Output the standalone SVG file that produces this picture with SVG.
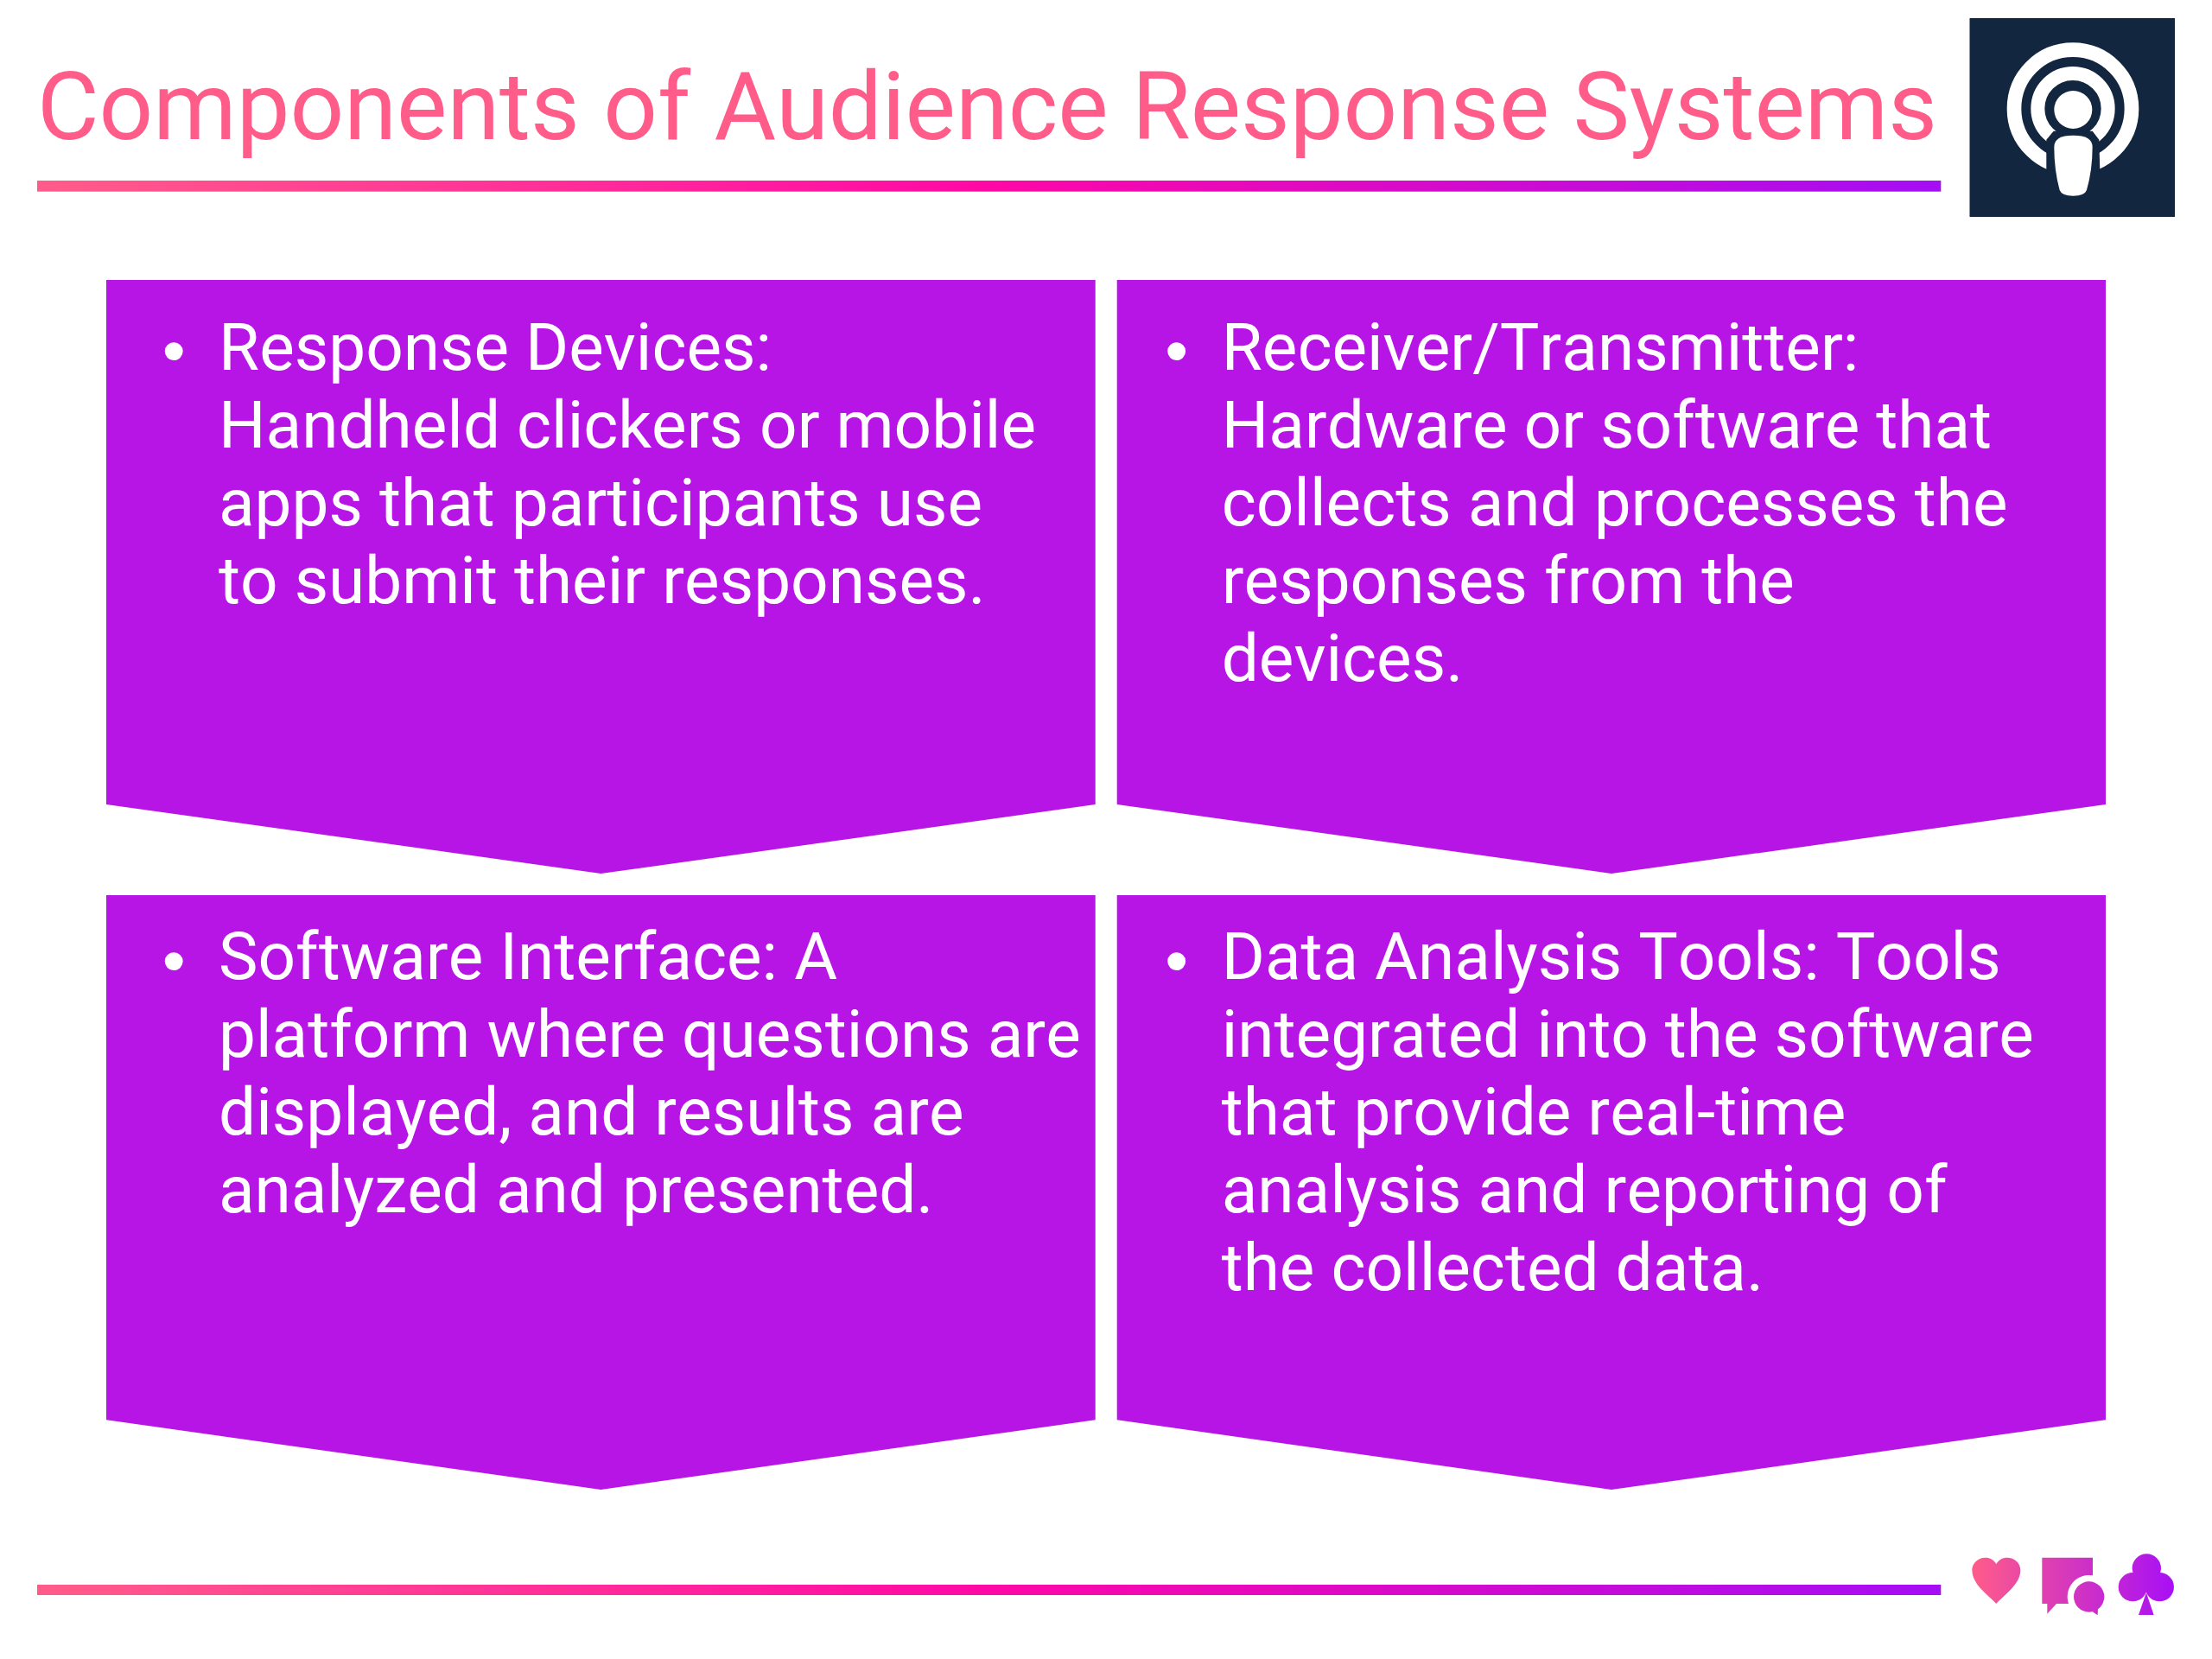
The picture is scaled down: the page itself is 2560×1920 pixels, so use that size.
<svg xmlns="http://www.w3.org/2000/svg" width="2560" height="1920" viewBox="0 0 2560 1920">
<style>
text{font-family:Roboto,"Liberation Sans",sans-serif;font-kerning:none}
.title{font-size:110px;fill:#ff5c8a}
.body{font-size:76.5px;fill:#fff}
.dot{font-size:76.8px;fill:#fff;font-family:"Liberation Sans",sans-serif;text-anchor:middle}
.box{fill:#b715e6}
</style>
<defs>
<linearGradient id="rule" x1="0" x2="1" y1="0" y2="0">
<stop offset="0" stop-color="#ff5c8a"/><stop offset=".5" stop-color="#ff08a6"/><stop offset="1" stop-color="#a50df5"/>
</linearGradient>
<linearGradient id="ico" gradientUnits="userSpaceOnUse" x1="127" y1="0" x2="828" y2="0">
<stop offset="0" stop-color="#ff5c8a"/><stop offset="1" stop-color="#a80ff5"/>
</linearGradient>
</defs>
<rect width="2560" height="1920" fill="#fff"/>
<g id="header">
<text class="title" x="43" y="160.7">Components of Audience Response Systems</text>
<rect x="43" y="209" width="2203.3" height="12.7" fill="url(#rule)"/>
</g>
<g id="logo">
<rect x="2279.5" y="21" width="237.5" height="230" fill="#12263f"/>
<g transform="translate(2240 0) scale(.3333)">
<circle cx="477" cy="377" r="204" fill="none" stroke="#fff" stroke-width="50"/>
<circle cx="477" cy="377" r="122" fill="none" stroke="#fff" stroke-width="48"/>
<polygon points="385,590 385,485 410,455 545,455 568,485 571,590 571,700 385,700" fill="#12263f"/>
<circle cx="478" cy="381" r="66" fill="#fff"/>
<path d="M412 510Q412 470 478 470Q545 470 545 510Q545 590 525 660Q518 680 478 680Q438 680 431 660Q412 590 412 510Z" fill="#fff"/>
</g>
</g>
<g id="node-response-devices">
<polygon class="box" points="123,324 1267.7,324 1267.7,931 695.4,1011 123,931"/>
<text class="dot" x="201.3" y="432">•</text>
<text class="body"><tspan x="253" y="428">Response Devices:</tspan><tspan x="253" y="518">Handheld clickers or mobile</tspan><tspan x="253" y="608">apps that participants use</tspan><tspan x="253" y="698">to submit their responses.</tspan></text>
</g>
<g id="node-receiver-transmitter">
<polygon class="box" points="1292.7,324 2437,324 2437,931 1865,1011 1292.7,931"/>
<text class="dot" x="1361.7" y="432">•</text>
<text class="body"><tspan x="1413.7" y="428">Receiver/Transmitter:</tspan><tspan x="1413.7" y="518">Hardware or software that</tspan><tspan x="1413.7" y="608">collects and processes the</tspan><tspan x="1413.7" y="698">responses from the</tspan><tspan x="1413.7" y="788">devices.</tspan></text>
</g>
<g id="node-software-interface">
<polygon class="box" points="123,1036 1267.7,1036 1267.7,1643.3 695.4,1724 123,1643.3"/>
<text class="dot" x="201.3" y="1138">•</text>
<text class="body"><tspan x="253" y="1133.3">Software Interface: A</tspan><tspan x="253" y="1223.3">platform where questions are</tspan><tspan x="253" y="1313.3">displayed, and results are</tspan><tspan x="253" y="1403.3">analyzed and presented.</tspan></text>
</g>
<g id="node-data-analysis-tools">
<polygon class="box" points="1292.7,1036 2437,1036 2437,1643.3 1865,1724 1292.7,1643.3"/>
<text class="dot" x="1361.7" y="1138">•</text>
<text class="body"><tspan x="1413.7" y="1133.3">Data Analysis Tools: Tools</tspan><tspan x="1413.7" y="1223.3">integrated into the software</tspan><tspan x="1413.7" y="1313.3">that provide real-time</tspan><tspan x="1413.7" y="1403.3">analysis and reporting of</tspan><tspan x="1413.7" y="1493.3">the collected data.</tspan></text>
</g>
<g id="footer">
<rect x="43" y="1834" width="2203.3" height="12" fill="url(#rule)"/>
<g transform="translate(2240 1780) scale(.3333)" fill="url(#ico)">
<path d="M211 228C180 195 127 160 127 112C127 85 150 68 173 68C190 68 203 76 211 90C219 76 232 68 249 68C272 68 295 85 295 112C295 160 242 195 211 228Z"/>
<path d="M370 68H546V130A75 75 0 0 0 462 228H420L388 263V228H370Z"/>
<circle cx="533" cy="204" r="53"/>
<polygon points="545,256 563,268 564,245"/>
<circle cx="733" cy="105" r="50"/><circle cx="685" cy="170" r="50"/><circle cx="778" cy="170" r="50"/>
<polygon points="732,190 758,267 705,267"/>
</g>
</g>
</svg>
